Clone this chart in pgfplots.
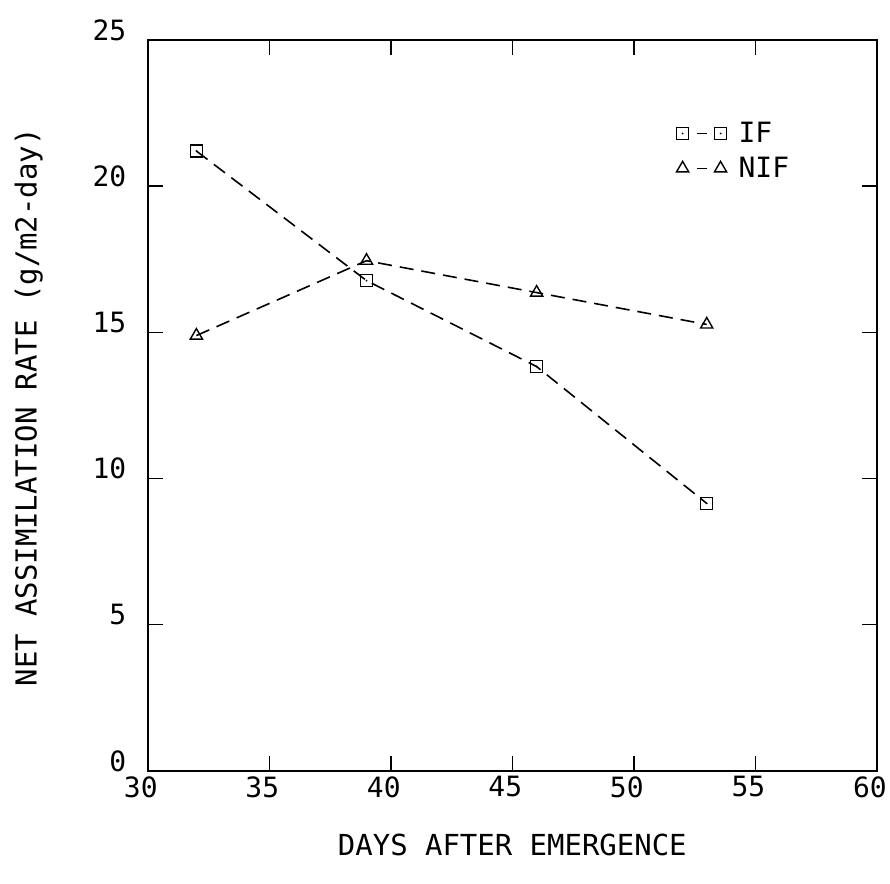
\documentclass[border=0pt]{standalone}
\usepackage{pgfplots}
\pgfplotsset{compat=1.18}
\usepackage{fontspec}
\setmainfont{DejaVu Sans Mono}
\pgfdeclareplotmark{dsq}{%
  \pgfpathrectangle{\pgfpoint{-\pgfplotmarksize}{-\pgfplotmarksize}}{\pgfpoint{2\pgfplotmarksize}{2\pgfplotmarksize}}%
  \pgfusepathqstroke
  \pgfpathcircle{\pgfpointorigin}{1pt}\pgfusepathqfill}
\begin{document}
\begin{tikzpicture}
\begin{axis}[
  scale only axis, width=730pt, height=732pt,
  xmin=30, xmax=60, ymin=0, ymax=25,
  xtick={30,35,...,60}, ytick={0,5,...,25},
  tick align=inside, major tick length=15pt,
  axis line style={line width=1.6pt}, every tick/.style={line width=1.4pt, black},
  /pgf/number format/assume math mode=true,
  tick label style={font=\fontsize{28}{30}\selectfont},
  xticklabel style={yshift=-2pt, xshift=-7pt},
  yticklabel style={xshift=-18pt, yshift=10pt},
  xlabel={DAYS AFTER EMERGENCE},
  ylabel={NET ASSIMILATION RATE (g/m2-day)},
  label style={font=\fontsize{29}{32}\selectfont},
  xlabel style={yshift=-30pt},
  ylabel style={yshift=43pt, xshift=-2pt},
  legend style={draw=none, fill=none, at={(0.725,0.89)}, anchor=north west, font=\fontsize{28}{30}\selectfont, row sep=9pt, inner sep=0pt, nodes={inner xsep=12pt}},
  legend cell align=left,
  legend image code/.code={
    \draw[solid, line width=1.4pt] (14pt,0) -- (24pt,0);
    \path[#1, draw=none] plot coordinates {(0pt,0pt) (38pt,0pt)};
  },
]
\addplot[black, line width=1.6pt, dash pattern=on 14pt off 8pt, mark=dsq, mark size=6pt, mark options={solid, line width=1.4pt, draw=black}]
  coordinates {(32,21.2) (39,16.77) (46,13.83) (53,9.15)};
\addlegendentry{IF}
\addplot[black, line width=1.6pt, dash pattern=on 14pt off 8pt, mark=triangle, mark size=7pt, mark options={solid, line width=1.4pt, draw=black}]
  coordinates {(32,14.89) (39,17.45) (46,16.36) (53,15.27)};
\addlegendentry{NIF}
\end{axis}
\path ([shift={(-148pt,-113pt)}]current axis.south west) rectangle ([shift={(12pt,40pt)}]current axis.north east);
\end{tikzpicture}
\end{document}
